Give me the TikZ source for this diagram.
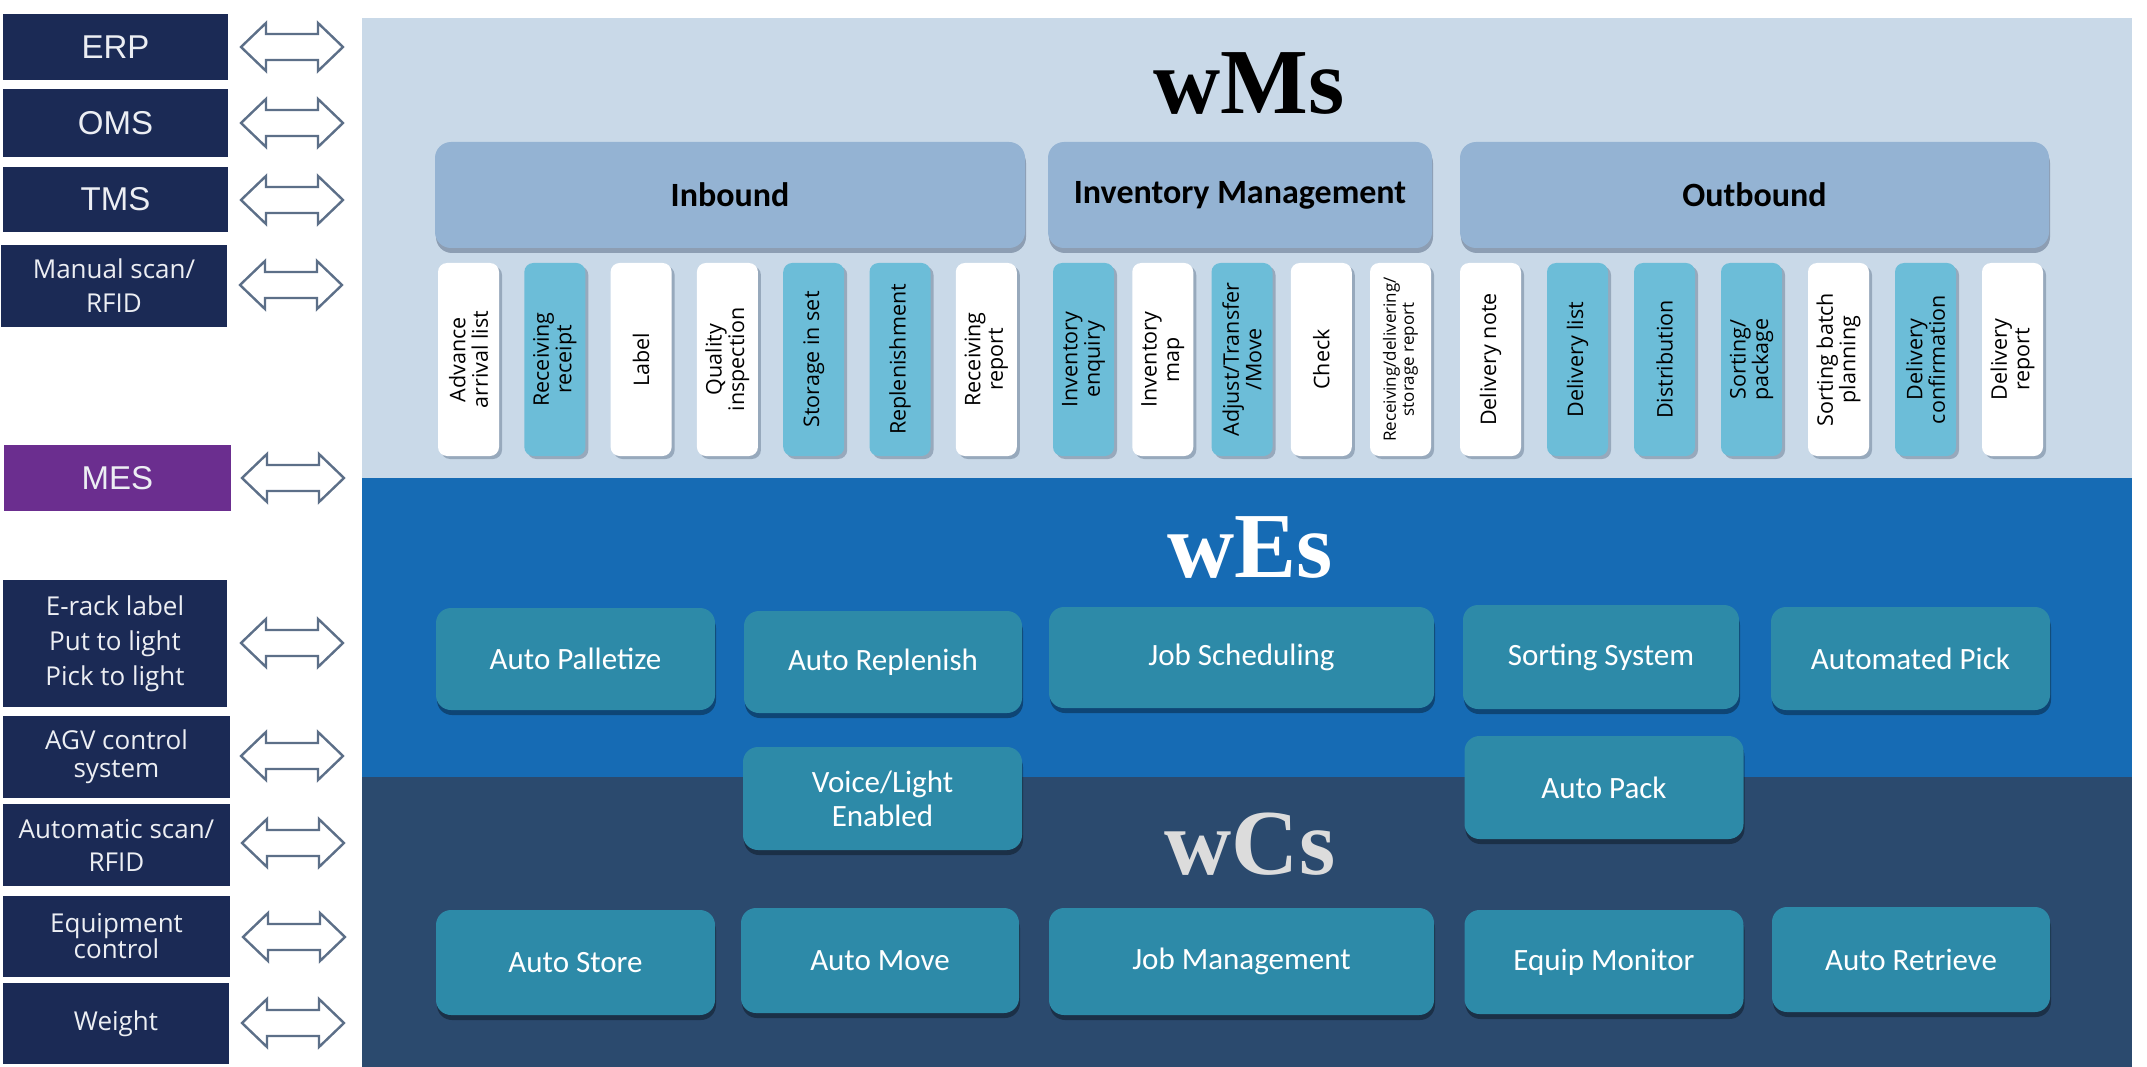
\documentclass[tikz,border=0pt]{standalone}
\usepackage{fontspec}
\usetikzlibrary{shadows}
\newfontfamily\arialf{Liberation Sans}
\newfontfamily\osf{Open Sans}
\newfontfamily\carf{Carlito}
\newfontfamily\serf{Liberation Serif}
\definecolor{lightbg}{HTML}{C9D9E8}
\definecolor{midbg}{HTML}{166BB4}
\definecolor{darkbg}{HTML}{2B4A6E}
\definecolor{navy}{HTML}{1B2A55}
\definecolor{mespurple}{HTML}{6B2E8F}
\definecolor{hdrblue}{HTML}{94B3D3}
\definecolor{colteal}{HTML}{6CBDD8}
\definecolor{boxteal}{HTML}{2D8AA8}
\definecolor{arrline}{HTML}{5C6F88}
\definecolor{lbltxt}{HTML}{ECEEF3}
\definecolor{wcsgray}{HTML}{DCDCDC}
\tikzset{
  lbox/.style={fill=navy, text=lbltxt, inner sep=0, align=center},
  fA/.style={font=\arialf\fontsize{33}{38}\selectfont},
  fO/.style={font=\osf\fontsize{26}{34}\selectfont},
  dblarr/.pic={\draw[arrline, line width=2.4, fill=white, line join=miter]
     (-51,0) -- (-26,-24) -- (-26,-13) -- (26,-13) -- (26,-24) -- (51,0)
     -- (26,24) -- (26,13) -- (-26,13) -- (-26,24) -- cycle;},
  hdr/.style={fill=hdrblue, rounded corners=16, inner sep=0, minimum height=106,
     font=\carf\bfseries\fontsize{34}{38}\selectfont, text=black,
     drop shadow={shadow xshift=1pt, shadow yshift=-5pt, fill=arrline, opacity=0.55}},
  colbase/.style={rounded corners=9, inner sep=0, minimum width=61, minimum height=193,
     drop shadow={shadow xshift=3pt, shadow yshift=-3pt, fill=arrline, opacity=0.45}},
  colw/.style={colbase, fill=white},
  colt/.style={colbase, fill=colteal},
  ctext/.style={rotate=90, align=center, inner sep=0, text=black,
     font=\osf\fontsize{21.5}{22.5}\selectfont},
  ebox/.style={fill=boxteal, rounded corners=15, inner sep=0, text=white, align=center,
     font=\carf\fontsize{31}{34}\selectfont,
     drop shadow={shadow xshift=1pt, shadow yshift=-5pt, fill=black, opacity=0.35}},
  ttl/.style={anchor=base, inner sep=0, font=\serf\bfseries\fontsize{93}{100}\selectfont}
}
\begin{document}
\begin{tikzpicture}[x=1pt,y=-1pt]
\useasboundingbox (0,0) rectangle (2147,1067);
\fill[white] (0,0) rectangle (2147,1067);
% panel bands
\fill[lightbg] (362,18) rectangle (2132,478);
\fill[midbg] (362,478) rectangle (2132,777);
\fill[darkbg] (362,777) rectangle (2132,1067);

% left boxes
\node[lbox, fA, minimum width=225, minimum height=66] (erp) at (115.5,47) {ERP};
\node[lbox, fA, minimum width=225, minimum height=68] (oms) at (115.5,123) {OMS};
\node[lbox, fA, minimum width=225, minimum height=65] (tms) at (115.5,199.5) {TMS};
\node[lbox, fO, minimum width=226, minimum height=82] (man) at (114,286) {Manual scan/\\RFID};
\node[lbox, fA, fill=mespurple, minimum width=227, minimum height=66] (mes) at (117.5,478) {MES};
\node[lbox, fO, font=\osf\fontsize{26}{35}\selectfont, minimum width=224, minimum height=127] (erack) at (115,643.5) {E-rack label\\Put to light\\Pick to light};
\node[lbox, fO, font=\osf\fontsize{26}{28}\selectfont, minimum width=227, minimum height=82] (agv) at (116.5,757) {AGV control\\system};
\node[lbox, fO, font=\osf\fontsize{26}{33}\selectfont, minimum width=227, minimum height=82] (ascan) at (116.5,845) {Automatic scan/\\RFID};
\node[lbox, fO, font=\osf\fontsize{26}{26}\selectfont, minimum width=227, minimum height=81] (equip) at (116.5,936.5) {Equipment\\control};
\node[lbox, fO, minimum width=226, minimum height=81] (weight) at (116,1023.5) {Weight};

% double arrows
\coordinate (a1) at (292,47);
\coordinate (a2) at (292,123);
\coordinate (a3) at (292,200);
\coordinate (a4) at (291,285);
\coordinate (a5) at (293,478);
\coordinate (a6) at (292,643);
\coordinate (a7) at (292,756);
\coordinate (a8) at (293,843);
\coordinate (a9) at (294,937);
\coordinate (a10) at (293,1023);
\foreach \c in {a1,a2,a3,a4,a5,a6,a7,a8,a9,a10} {\pic at (\c) {dblarr};}

% titles
\node[ttl] (wms) at (1249,114) {wMs};
\node[ttl, text=white] (wes) at (1250,577) {wEs};
\node[ttl, text=wcsgray] (wcs) at (1250,874) {wCs};

% header boxes
\node[hdr, minimum width=590] (inb) at (730,195) {Inbound};
\node[hdr, minimum width=384] (inv) at (1240,195) {Inventory Management};
\node[hdr, minimum width=589] (outb) at (1754.5,195) {Outbound};

% inbound columns
\node[colw] (i1) at (468.5,359.5) {};
\node[colt] (i2) at (554.8,359.5) {};
\node[colw] (i3) at (641.1,359.5) {};
\node[colw] (i4) at (727.4,359.5) {};
\node[colt] (i5) at (813.7,359.5) {};
\node[colt] (i6) at (900.0,359.5) {};
\node[colw] (i7) at (986.3,359.5) {};
\node[ctext] at (i1) {Advance\\arrival list};
\node[ctext] at (i2) {Receiving\\receipt};
\node[ctext] at (i3) {Label};
\node[ctext] at (i4) {Quality\\inspection};
\node[ctext] at (i5) {Storage in set};
\node[ctext] at (i6) {Replenishment};
\node[ctext] at (i7) {Receiving\\report};

% inventory columns
\node[colt] (v1) at (1083.5,359.5) {};
\node[colw] (v2) at (1162.75,359.5) {};
\node[colt] (v3) at (1242.0,359.5) {};
\node[colw] (v4) at (1321.25,359.5) {};
\node[colw] (v5) at (1400.5,359.5) {};
\node[ctext] at (v1) {Inventory\\enquiry};
\node[ctext] at (v2) {Inventory\\map};
\node[ctext] at (v3) {Adjust/Transfer\\/Move};
\node[ctext] at (v4) {Check};
\node[ctext, font=\osf\fontsize{17}{18}\selectfont] at (v5) {Receiving/delivering/\\storage report};

% outbound columns
\node[colw] (o1) at (1490.5,359.5) {};
\node[colt] (o2) at (1577.5,359.5) {};
\node[colt] (o3) at (1664.5,359.5) {};
\node[colt] (o4) at (1751.5,359.5) {};
\node[colw] (o5) at (1838.5,359.5) {};
\node[colt] (o6) at (1925.5,359.5) {};
\node[colw] (o7) at (2012.5,359.5) {};
\node[ctext] at (o1) {Delivery note};
\node[ctext] at (o2) {Delivery list};
\node[ctext] at (o3) {Distribution};
\node[ctext] at (o4) {Sorting/\\package};
\node[ctext] at (o5) {Sorting batch\\planning};
\node[ctext] at (o6) {Delivery\\confirmation};
\node[ctext] at (o7) {Delivery\\report};

% wES boxes
\node[ebox, minimum width=279, minimum height=102] (apal) at (575.5,659) {Auto Palletize};
\node[ebox, minimum width=278, minimum height=102] (arep) at (883,662) {Auto Replenish};
\node[ebox, minimum width=385, minimum height=101] (jsch) at (1241.5,657.5) {Job Scheduling};
\node[ebox, minimum width=276, minimum height=104] (ssys) at (1601,657) {Sorting System};
\node[ebox, minimum width=279, minimum height=103] (apick) at (1910.5,658.5) {Automated Pick};
\node[ebox, minimum width=279, minimum height=103] (voice) at (882.5,798.5) {Voice/Light\\Enabled};
\node[ebox, minimum width=279, minimum height=103] (apack) at (1604,787.5) {Auto Pack};

% wCS boxes
\node[ebox, minimum width=279, minimum height=105] (astore) at (575.5,962.5) {Auto Store};
\node[ebox, minimum width=278, minimum height=105] (amove) at (880,960.5) {Auto Move};
\node[ebox, minimum width=385, minimum height=107] (jman) at (1241.5,961.5) {Job Management};
\node[ebox, minimum width=279, minimum height=104] (emon) at (1604,962) {Equip Monitor};
\node[ebox, minimum width=278, minimum height=105] (aret) at (1911,959.5) {Auto Retrieve};
\end{tikzpicture}
\end{document}
